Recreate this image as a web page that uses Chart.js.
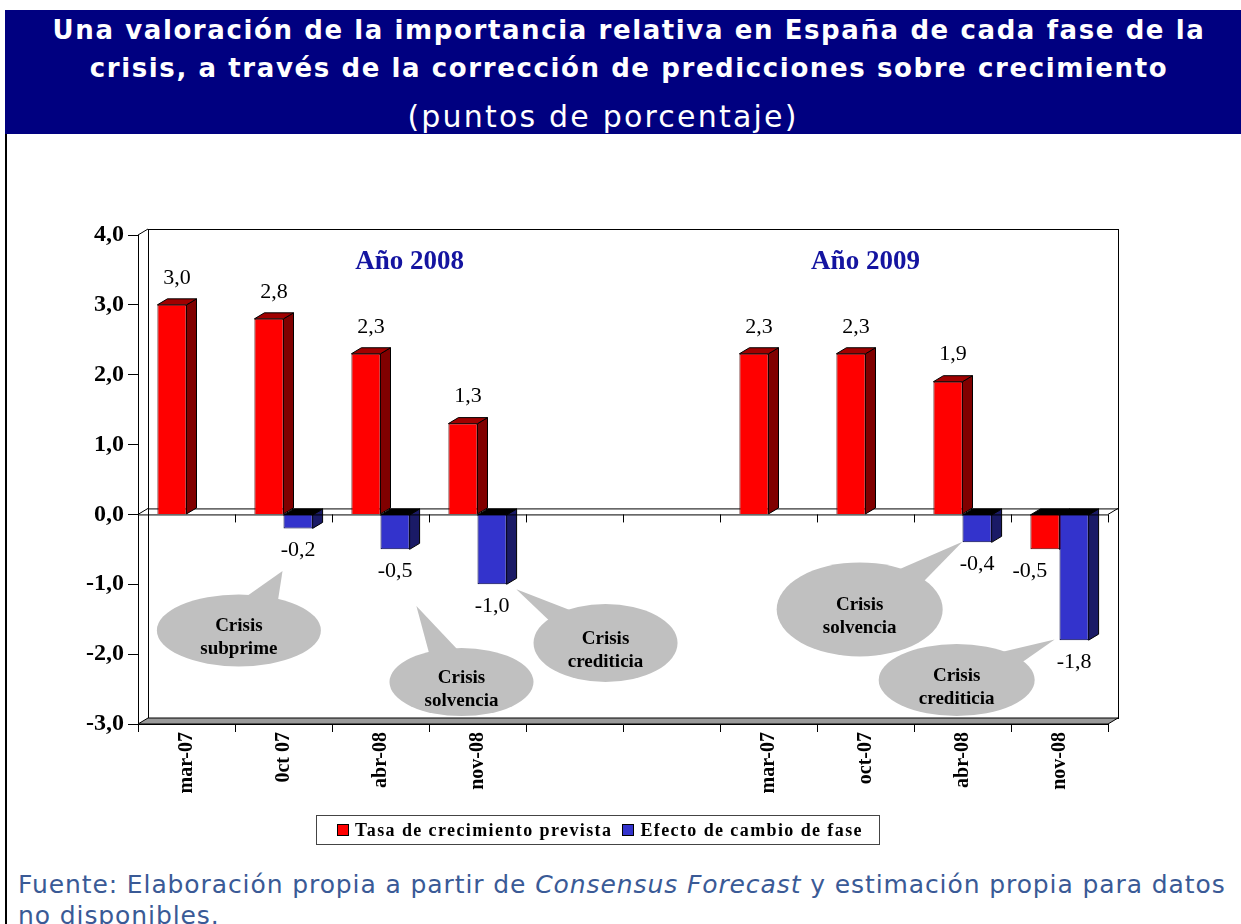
<!DOCTYPE html>
<html lang="es">
<head>
<meta charset="UTF-8">
<title>Fases de la crisis - España</title>
<script src="https://cdn.jsdelivr.net/npm/chart.js"></script>
<style>
body {
    margin: 0;
    width: 1241px;
    height: 924px;
    overflow: hidden;
    position: relative;
    background: #fff;
    font-family: 'DejaVu Sans', Verdana, sans-serif;
}
.frame-line {
    position: absolute;
    left: 5px;
    top: 10px;
    width: 2px;
    height: 914px;
    background: #000;
}
header {
    position: absolute;
    left: 5px;
    top: 10px;
    right: 0;
    height: 124px;
    background: #000080;
    color: #fff;
    text-align: center;
}
header h1 {
    position: absolute;
    top: 1px;
    left: 12px;
    right: 0;
    margin: 0;
    font-size: 26px;
    letter-spacing: 1.6px;
    line-height: 38px;
    font-weight: bold;
}
header p {
    position: absolute;
    top: 90px;
    left: 0;
    right: 40px;
    margin: 0;
    font-size: 30px;
    letter-spacing: 2.2px;
    line-height: 34px;
}
.chart-box {
    position: absolute;
    left: 0;
    top: 200px;
    width: 1241px;
    height: 620px;
}
.legend {
    position: absolute;
    left: 316px;
    top: 815px;
    width: 562px;
    height: 28px;
    border: 1px solid #444;
    display: flex;
    align-items: center;
    justify-content: center;
    font-family: 'Liberation Serif', 'Times New Roman', serif;
    font-weight: bold;
    font-size: 18px;
    letter-spacing: 1.4px;
}
.legend span.box {
    display: inline-block;
    width: 10px;
    height: 10px;
    border: 1px solid #000;
    margin: 0 6px 0 4px;
}
.source {
    position: absolute;
    left: 18px;
    top: 869px;
    width: 1220px;
    white-space: nowrap;
    color: #3a5a96;
    font-size: 25px;
    letter-spacing: 0.9px;
    line-height: 31px;
}
</style>
</head>
<body>
<div class="frame-line"></div>
<header>
    <h1>Una valoración de la importancia relativa en España de cada fase de la<br>crisis, a través de la corrección de predicciones sobre crecimiento</h1>
    <p>(puntos de porcentaje)</p>
</header>

<div class="chart-box"><canvas id="chart" width="1241" height="620"></canvas></div>

<div class="legend">
    <span class="box" style="background:#ff0000"></span>Tasa de crecimiento prevista
    <span class="box" style="background:#3333cc; margin-left:10px"></span>Efecto de cambio de fase
</div>

<div class="source">Fuente: Elaboración propia a partir de <i>Consensus Forecast</i> y estimación propia para datos<br>no disponibles.</div>

<script>
// data
const categories = ['mar-07', '0ct 07', 'abr-08', 'nov-08', '', '', 'mar-07', 'oct-07', 'abr-08', 'nov-08'];
const tasaPrevista = [3.0, 2.8, 2.3, 1.3, null, null, 2.3, 2.3, 1.9, -0.5];
const efectoFase = [null, -0.2, -0.5, -1.0, null, null, null, null, -0.4, -1.8];
const yMin = -3;
const yMax = 4;

// annotations, placed in category index / value units
const yearTitles = [
    { text: 'Año 2008', x: 2.3, y: 3.61 },
    { text: 'Año 2009', x: 7.0, y: 3.61 }
];
const bubbles = [
    { lines: ['Crisis', 'subprime'], cx: 0.54, cy: -1.66, rx: 82, ry: 36, tx: 0.99, ty: -0.81 },
    { lines: ['Crisis', 'solvencia'], cx: 2.835, cy: -2.40, rx: 72, ry: 34, tx: 2.37, ty: -1.31 },
    { lines: ['Crisis', 'crediticia'], cx: 4.32, cy: -1.84, rx: 72, ry: 39, tx: 3.40, ty: -1.07 },
    { lines: ['Crisis', 'solvencia'], cx: 6.94, cy: -1.36, rx: 83, ry: 47, tx: 8.0, ty: -0.39 },
    { lines: ['Crisis', 'crediticia'], cx: 7.94, cy: -2.37, rx: 78, ry: 36, tx: 8.95, ty: -1.79 }
];

const SERIF = "'Liberation Serif', 'Times New Roman', serif";
const DX = 10, DY = 6; // 3d depth
const faceColors = [
    { side: '#800000', top: '#a00000', negShift: -15 },
    { side: '#1a1a66', top: '#22227a', negShift: 0 }
];

function fmt(v) {
    return v.toFixed(1).replace('.', ',');
}

function poly(ctx, pts, fill, stroke) {
    ctx.beginPath();
    ctx.moveTo(pts[0][0], pts[0][1]);
    for (let i = 1; i < pts.length; i++) ctx.lineTo(pts[i][0], pts[i][1]);
    ctx.closePath();
    if (fill) { ctx.fillStyle = fill; ctx.fill(); }
    if (stroke) { ctx.strokeStyle = stroke; ctx.lineWidth = 1; ctx.stroke(); }
}

function line(ctx, x1, y1, x2, y2, color) {
    ctx.beginPath();
    ctx.moveTo(x1, y1);
    ctx.lineTo(x2, y2);
    ctx.strokeStyle = color || '#000';
    ctx.lineWidth = 1;
    ctx.stroke();
}

const depthPlugin = {
    id: 'depth',
    beforeDatasetsDraw(chart) {
        const ctx = chart.ctx;
        const a = chart.chartArea;
        const y0 = chart.scales.y.getPixelForValue(0);
        ctx.save();
        // back wall
        ctx.strokeStyle = '#000';
        ctx.lineWidth = 1;
        ctx.strokeRect(a.left + DX + 0.5, a.top - DY + 0.5, a.right - a.left, a.bottom - a.top);
        line(ctx, a.left, a.top, a.left + DX, a.top - DY);
        // floor
        poly(ctx, [[a.left, a.bottom], [a.left + DX, a.bottom - DY], [a.right + DX, a.bottom - DY], [a.right, a.bottom]], '#9a9a9a', '#000');
        // zero plane, back edge
        line(ctx, a.left + DX, y0 - DY + 0.5, a.right + DX, y0 - DY + 0.5);
        line(ctx, a.left, y0, a.left + DX, y0 - DY);
        line(ctx, a.right, y0, a.right + DX, y0 - DY);

        // side and top faces of the bars, first series first
        chart.data.datasets.forEach((ds, di) => {
            const col = faceColors[di];
            chart.getDatasetMeta(di).data.forEach((el, i) => {
                const v = ds.data[i];
                if (v === null) return;
                const l = el.x - el.width / 2, r = el.x + el.width / 2;
                const t = Math.min(el.y, el.base), b = Math.max(el.y, el.base);
                poly(ctx, [[r, t], [r + DX, t - DY], [r + DX, b - DY], [r, b]], col.side, '#000');
                poly(ctx, [[l, t], [l + DX, t - DY], [r + DX, t - DY], [r, t]], v < 0 ? '#000' : col.top, '#000');
            });
        });
        ctx.restore();
    },
    afterDatasetsDraw(chart) {
        const ctx = chart.ctx;
        const a = chart.chartArea;
        const xs = chart.scales.x, ys = chart.scales.y;
        const y0 = ys.getPixelForValue(0);
        ctx.save();
        // front zero line with ticks at category edges
        line(ctx, a.left, y0 + 0.5, a.right, y0 + 0.5);
        for (let i = 0; i <= categories.length; i++) {
            const px = Math.round(xs.getPixelForValue(i - 0.5)) + 0.5;
            line(ctx, px, y0, px, y0 + 8);
        }

        // bubbles
        bubbles.forEach(bb => {
            const cx = xs.getPixelForValue(bb.cx), cy = ys.getPixelForValue(bb.cy);
            const tx = xs.getPixelForValue(bb.tx), ty = ys.getPixelForValue(bb.ty);
            const th = Math.atan2((ty - cy) / bb.ry, (tx - cx) / bb.rx);
            ctx.fillStyle = '#c0c0c0';
            ctx.beginPath();
            ctx.ellipse(cx, cy, bb.rx, bb.ry, 0, 0, Math.PI * 2);
            ctx.fill();
            poly(ctx, [
                [cx + bb.rx * 0.9 * Math.cos(th - 0.24), cy + bb.ry * 0.9 * Math.sin(th - 0.24)],
                [tx, ty],
                [cx + bb.rx * 0.9 * Math.cos(th + 0.24), cy + bb.ry * 0.9 * Math.sin(th + 0.24)]
            ], '#c0c0c0');
            ctx.fillStyle = '#000';
            ctx.font = 'bold 19px ' + SERIF;
            ctx.textAlign = 'center';
            ctx.textBaseline = 'middle';
            ctx.fillText(bb.lines[0], cx, cy - 4);
            ctx.fillText(bb.lines[1], cx, cy + 19);
        });

        // value labels
        ctx.font = '22px ' + SERIF;
        ctx.fillStyle = '#000';
        ctx.textAlign = 'center';
        ctx.textBaseline = 'middle';
        chart.data.datasets.forEach((ds, di) => {
            chart.getDatasetMeta(di).data.forEach((el, i) => {
                const v = ds.data[i];
                if (v === null) return;
                if (v >= 0) ctx.fillText(fmt(v), el.x + 5, el.y - 27);
                else ctx.fillText(fmt(v), el.x + faceColors[di].negShift, el.y + 22);
            });
        });

        // year titles
        ctx.font = 'bold 27px ' + SERIF;
        ctx.fillStyle = '#1414a0';
        yearTitles.forEach(t => {
            ctx.fillText(t.text, xs.getPixelForValue(t.x), ys.getPixelForValue(t.y));
        });
        ctx.restore();
    }
};

Chart.defaults.font.family = SERIF;
Chart.defaults.color = '#000';

new Chart(document.getElementById('chart'), {
    type: 'bar',
    data: {
        labels: categories,
        datasets: [{
            label: 'Tasa de crecimiento prevista',
            data: tasaPrevista,
            backgroundColor: '#ff0000',
            borderColor: '#500000',
            borderWidth: 1
        }, {
            label: 'Efecto de cambio de fase',
            data: efectoFase,
            backgroundColor: '#3333cc',
            borderColor: '#000040',
            borderWidth: 1
        }]
    },
    options: {
        responsive: false,
        animation: false,
        categoryPercentage: 0.6,
        barPercentage: 1,
        layout: { padding: { top: 35, right: 133, left: 0, bottom: 0 } },
        plugins: {
            legend: { display: false },
            tooltip: { enabled: false }
        },
        scales: {
            x: {
                grid: { offset: true, drawOnChartArea: false, tickLength: 8, color: '#000' },
                border: { display: true, color: '#000' },
                ticks: {
                    autoSkip: false,
                    minRotation: 90,
                    maxRotation: 90,
                    padding: 0,
                    font: { size: 20, weight: 'bold' }
                },
                afterFit(s) { s.height = 96; }
            },
            y: {
                min: yMin,
                max: yMax,
                grid: { drawOnChartArea: false, tickLength: 10, color: '#000' },
                border: { display: true, color: '#000' },
                ticks: {
                    stepSize: 1,
                    padding: 4,
                    font: { size: 24, weight: 'bold' },
                    callback: v => fmt(v)
                },
                afterFit(s) { s.width = 138; }
            }
        }
    },
    plugins: [depthPlugin]
});
</script>
</body>
</html>
